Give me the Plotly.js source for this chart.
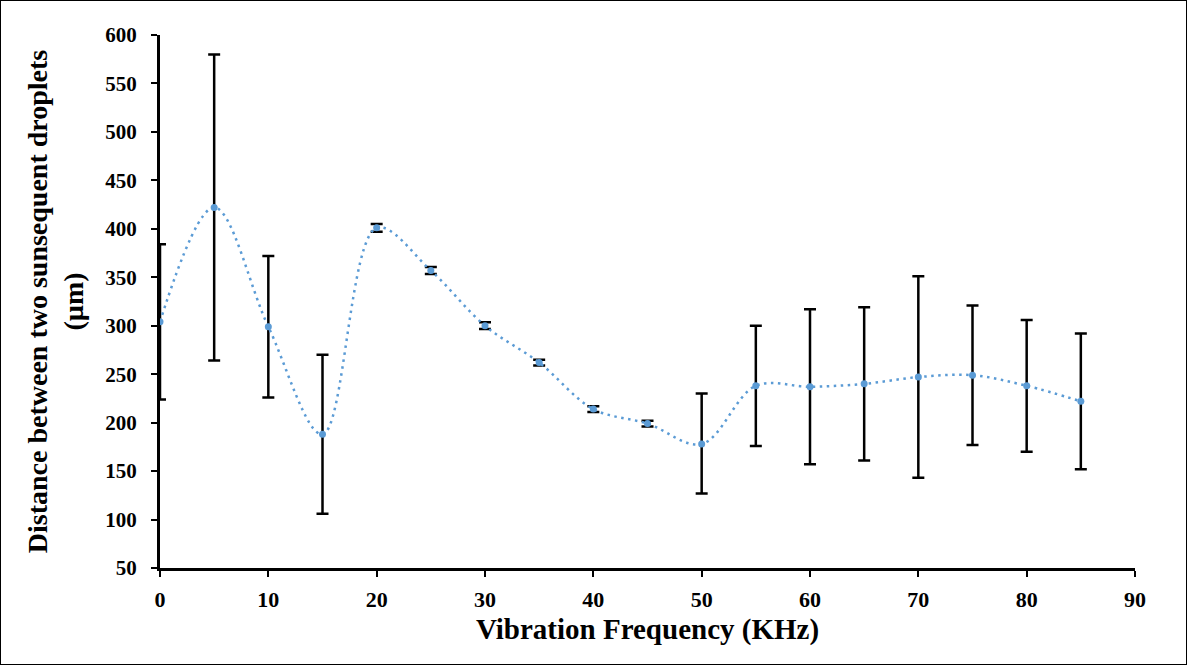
<!DOCTYPE html>
<html>
<head>
<meta charset="utf-8">
<script src="https://cdn.plot.ly/plotly-3.0.1.min.js"></script>
<style>
html,body{margin:0;padding:0;background:#fff;}
#chart{width:1185px;height:663px;border:1px solid #000;}
</style>
</head>
<body>
<div id="chart"></div>
<script>
const frequency = [0,5,10,15,20,25,30,35,40,45,50,55,60,65,70,75,80,85];
const distance  = [304,422,299,188,401,357,300,262,214,199,178,238,237,240,247,249,238,222];
const errorUp   = [80,158,73,82,4,3.5,3.5,3,3,3,52,62,80,79,104,72,68,70];
const errorDown = [80,158,73,82,4,3.5,3.5,3,3,3,51,62,80,79,104,72,68,70];
const xTicks = [0,10,20,30,40,50,60,70,80,90];
const yTicks = [50,100,150,200,250,300,350,400,450,500,550,600];

const fontFam = '"Liberation Serif", "Times New Roman", serif';

const trace = {
  x: frequency,
  y: distance,
  type: 'scatter',
  mode: 'lines+markers',
  line: {color: '#5b9bd5', width: 2.5, dash: '2.5px,4.5px', shape: 'spline', smoothing: 1},
  marker: {color: '#5b9bd5', size: 7},
  error_y: {type: 'data', array: errorUp, arrayminus: errorDown, visible: true,
            color: '#000', thickness: 2.5, width: 6},
  cliponaxis: true,
  hoverinfo: 'x+y'
};

const layout = {
  width: 1185, height: 663,
  margin: {l: 159, r: 51, t: 34, b: 96},
  paper_bgcolor: '#fff', plot_bgcolor: '#fff',
  showlegend: false,
  font: {family: fontFam, color: '#000'},
  xaxis: {
    range: [0, 90], tickvals: xTicks, ticktext: xTicks.map(String),
    showgrid: false, zeroline: false,
    showline: true, linecolor: '#000', linewidth: 3,
    ticks: 'outside', ticklen: 6, tickwidth: 2, tickcolor: '#000',
    tickfont: {family: fontFam, size: 22, color: '#000', weight: 'bold'},
    ticklabelstandoff: 4,
    title: {text: '<b>Vibration Frequency (KHz)</b>', font: {family: fontFam, size: 29, color: '#000'}, standoff: 8}
  },
  yaxis: {
    range: [50, 600], tickvals: yTicks, ticktext: yTicks.map(String),
    showgrid: false, zeroline: false,
    showline: true, linecolor: '#000', linewidth: 3,
    ticks: 'outside', ticklen: 6, tickwidth: 2, tickcolor: '#000',
    tickfont: {family: fontFam, size: 21, color: '#000', weight: 'bold'},
    ticklabelstandoff: 10,
    title: {text: '<b>Distance between two sunsequent droplets<br>(µm)</b>', font: {family: fontFam, size: 28, color: '#000'}, standoff: 14}
  }
};

Plotly.newPlot('chart', [trace], layout, {displayModeBar: false, staticPlot: true});
</script>
</body>
</html>
